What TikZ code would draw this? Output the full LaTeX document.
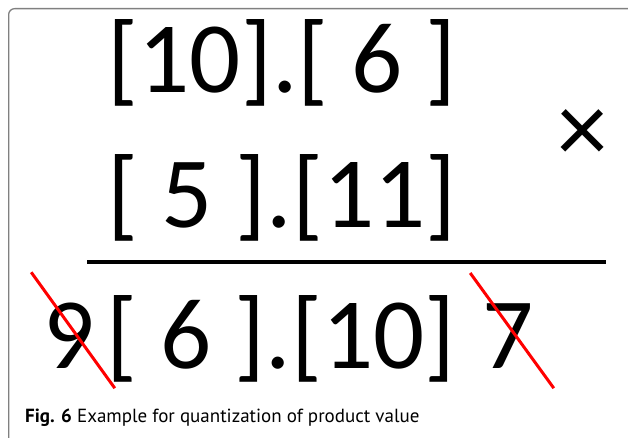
\documentclass[tikz,border=0pt]{standalone}
\usepackage{fontspec}
\setmainfont{Carlito}
\newfontfamily\capfont{PT Sans}
\usepackage{tikz}
\usetikzlibrary{
  positioning,
  calc
}
\definecolor{qFrame}{HTML}{808080}
\definecolor{qStrike}{HTML}{FF0000}
\tikzset{
  qnum/.style={inner sep=0pt, anchor=base, font=\fontsize{101}{101}\selectfont},
  qrule/.style={line width=4pt, black},
  qstrike/.style={line width=3pt, qStrike},
  qframe/.style={draw=qFrame, line width=1.3pt, rounded corners=6pt},
  qcaption/.style={inner sep=0pt, anchor=base west, font=\capfont\fontsize{19}{19}\selectfont}
}

\begin{document}
\begin{tikzpicture}[x=1pt, y=-1pt]
  \path[use as bounding box] (0,0) rectangle (628,438);
  \node[inner sep=0pt, minimum width=640pt, minimum height=450pt, anchor=north west, qframe] (panel) at (8,8) {};
  % operands
  \node[qnum] (opA) at (282,93) {[10].[ 6 ]};
  \node[qnum] (opB) at (282,227) {[ 5 ].[11]};
  \node[qnum, anchor=center] (times) at (583,136) {×};
  \coordinate (ruleL) at (87,262);
  \coordinate (ruleR) at (606,262);
  \draw[qrule] (ruleL) -- (ruleR);
  % product
  \node[qnum] (prod) at (281,368) {[ 6 ].[10]};
  \node[qnum] (nine) at (69,368) {9};
  \node[qnum] (seven) at (508,368) {7};
  \draw[qstrike] ([shift={(-12,-30)}]nine.north west) -- ([shift={(20,20)}]nine.south east);
  \draw[qstrike] ([shift={(-12,-30)}]seven.north west) -- ([shift={(20,20)}]seven.south east);
  \node[qcaption] (cap) at (25,422) {\textbf{Fig. 6} Example for quantization of product value};
\end{tikzpicture}
\end{document}
